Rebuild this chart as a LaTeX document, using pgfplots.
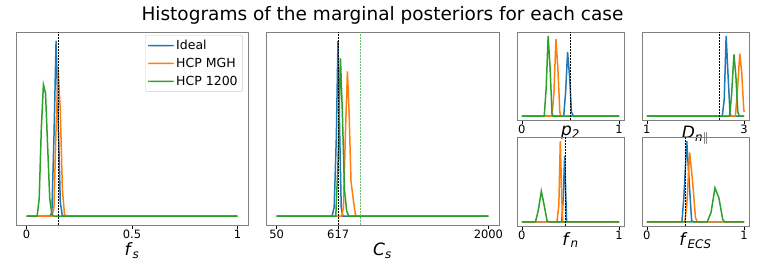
\documentclass[border=0pt]{standalone}
\usepackage{pgfplots}
\pgfplotsset{compat=1.18}
\usepackage{fontspec}
\setmainfont{DejaVu Sans}
\definecolor{tblue}{HTML}{1F77B4}
\definecolor{torange}{HTML}{FF7F0E}
\definecolor{tgreen}{HTML}{2CA02C}
\newcommand\lab[2]{\textit{#1}\textsubscript{\textit{#2}}}
\pgfplotsset{
  every axis/.append style={
    scale only axis, anchor=south west,
    ymin=-0.05, ymax=1.05, ytick=\empty,
    axis line style={black!50, line width=0.9pt},
    tick align=outside, xtick pos=left,
    major tick length=3.5pt,
    every tick/.style={black, line width=0.7pt},
    /pgf/number format/assume math mode=true,
    xticklabel style={font=\fontsize{11.5}{13}\selectfont, inner sep=1pt},
    xlabel style={font=\fontsize{17}{19}\selectfont},
  },
  cb/.style={tblue, line width=1.5pt},
  co/.style={torange, line width=1.5pt},
  cg/.style={tgreen, line width=1.5pt},
  vl/.style={black, line width=0.7pt, dash pattern=on 1.8pt off 1.2pt},
}
\begin{document}
\begin{tikzpicture}[x=1pt,y=1pt]
\useasboundingbox (0,0) rectangle (765,266);
\node[font=\fontsize{18.5}{21}\selectfont] at (382.5,251) {Histograms of the marginal posteriors for each case};

% Panel 1: f_s
\begin{axis}[at={(16pt,41pt)}, width=232pt, height=193pt,
  xmin=-0.05, xmax=1.05, xtick={0,0.5,1}, xticklabels={0,0.5,1},
  xlabel={\lab{f}{s}}, xlabel style={at={(axis description cs:0.5,-0.075)}, anchor=north},
  legend style={at={(0.978,0.985)}, anchor=north east, draw=black!20, rounded corners=2pt,
    font=\fontsize{12.5}{14}\selectfont, row sep=3pt, inner xsep=3pt, inner ysep=3pt},
  legend cell align=left]
\addlegendimage{legend image code/.code={\fill[fill=tblue, draw=none] (0pt,-0.75pt) rectangle (26pt,0.75pt);}}
\addlegendentry{Ideal}
\addlegendimage{legend image code/.code={\fill[fill=torange, draw=none] (0pt,-0.75pt) rectangle (26pt,0.75pt);}}
\addlegendentry{HCP MGH}
\addlegendimage{legend image code/.code={\fill[fill=tgreen, draw=none] (0pt,-0.75pt) rectangle (26pt,0.75pt);}}
\addlegendentry{HCP 1200}
\addplot[cb, forget plot] coordinates {(0,0)(0.11,0)(0.12,0.02)(0.13,0.45)(0.14,1.0)(0.15,0.55)(0.16,0.08)(0.17,0)(1,0)};
\addplot[co, forget plot] coordinates {(0,0)(0.12,0)(0.13,0.05)(0.14,0.5)(0.15,0.84)(0.16,0.6)(0.17,0.15)(0.18,0.01)(0.19,0)(1,0)};
\addplot[cg, forget plot] coordinates {(0,0)(0.05,0)(0.06,0.1)(0.07,0.5)(0.08,0.75)(0.09,0.7)(0.10,0.4)(0.11,0.1)(0.12,0.01)(0.13,0)(1,0)};
\addplot[vl, forget plot] coordinates {(0.15,-0.05)(0.15,1.05)};
\end{axis}

% Panel 2: C_s
\begin{axis}[at={(266pt,41pt)}, width=233pt, height=193pt,
  xmin=-47.5, xmax=2097.5, xtick={50,617,2000}, xticklabels={50,617,2000},
  xlabel={\lab{C}{s}}, xlabel style={at={(axis description cs:0.5,-0.075)}, anchor=north}]
\addplot[cb] coordinates {(50,0)(560,0)(580,0.05)(600,0.45)(615,1.0)(630,0.5)(645,0.05)(660,0)(2000,0)};
\addplot[co] coordinates {(50,0)(650,0)(665,0.05)(685,0.5)(702,0.825)(717,0.6)(735,0.2)(755,0.1)(775,0.01)(790,0)(2000,0)};
\addplot[cg] coordinates {(50,0)(595,0)(615,0.3)(638,0.9)(655,0.6)(675,0.15)(695,0.03)(715,0)(2000,0)};
\addplot[vl] coordinates {(617,-0.05)(617,1.05)};
\addplot[tgreen!70, line width=0.5pt, dash pattern=on 1.8pt off 1.2pt] coordinates {(818,-0.05)(818,1.05)};
\end{axis}

% p_2
\begin{axis}[at={(517pt,146pt)}, width=107pt, height=88pt,
  xmin=-0.05, xmax=1.05, xtick={0,1}, xticklabels={0,1},
  xlabel={\lab{p}{2}}, xlabel style={at={(axis description cs:0.5,-0.03)}, anchor=north}]
\addplot[cb] coordinates {(0,0)(0.43,0)(0.45,0.3)(0.47,0.8)(0.49,0.5)(0.51,0.05)(0.53,0)(1,0)};
\addplot[co] coordinates {(0,0)(0.31,0)(0.33,0.3)(0.35,0.96)(0.37,0.6)(0.39,0.05)(0.40,0)(1,0)};
\addplot[cg] coordinates {(0,0)(0.23,0)(0.25,0.35)(0.27,1.0)(0.29,0.6)(0.31,0.03)(0.32,0)(1,0)};
\addplot[vl] coordinates {(0.5,-0.05)(0.5,1.05)};
\end{axis}

% D_n||
\begin{axis}[at={(642pt,146pt)}, width=107pt, height=88pt,
  xmin=0.9, xmax=3.1, xtick={1,3}, xticklabels={1,3},
  xlabel={\textit{D}\textsubscript{\textit{n}$\parallel$}}, xlabel style={at={(axis description cs:0.5,-0.03)}, anchor=north}]
\addplot[cb] coordinates {(1,0)(2.55,0)(2.59,0.2)(2.63,1.0)(2.67,0.5)(2.71,0.03)(2.73,0)(3,0)};
\addplot[co] coordinates {(1,0)(2.82,0)(2.86,0.3)(2.91,0.78)(2.95,0.55)(2.99,0.1)(3,0.05)};
\addplot[cg] coordinates {(1,0)(2.7,0)(2.74,0.25)(2.79,0.77)(2.83,0.5)(2.87,0.05)(2.9,0)(3,0)};
\addplot[vl] coordinates {(2.5,-0.05)(2.5,1.05)};
\end{axis}

% f_n
\begin{axis}[at={(517pt,40pt)}, width=107pt, height=89pt,
  xmin=-0.05, xmax=1.05, xtick={0,1}, xticklabels={0,1},
  xlabel={\lab{f}{n}}, xlabel style={at={(axis description cs:0.5,-0.03)}, anchor=north}]
\addplot[cb] coordinates {(0,0)(0.41,0)(0.425,0.3)(0.44,0.815)(0.45,0.4)(0.46,0)(1,0)};
\addplot[co] coordinates {(0,0)(0.36,0)(0.38,0.2)(0.395,1.0)(0.41,0.3)(0.42,0)(1,0)};
\addplot[cg] coordinates {(0,0)(0.14,0)(0.17,0.15)(0.2,0.38)(0.23,0.2)(0.26,0.01)(0.28,0)(1,0)};
\addplot[vl] coordinates {(0.445,-0.05)(0.445,1.05)};
\end{axis}

% f_ECS
\begin{axis}[at={(642pt,40pt)}, width=107pt, height=89pt,
  xmin=-0.05, xmax=1.05, xtick={0,1}, xticklabels={0,1},
  xlabel={\lab{f}{ECS}}, xlabel style={at={(axis description cs:0.5,-0.03)}, anchor=north}]
\addplot[cb] coordinates {(0,0)(0.36,0)(0.38,0.3)(0.41,1.0)(0.44,0.4)(0.46,0.02)(0.48,0)(1,0)};
\addplot[co] coordinates {(0,0)(0.39,0)(0.41,0.2)(0.44,0.86)(0.47,0.5)(0.5,0.05)(0.52,0)(1,0)};
\addplot[cg] coordinates {(0,0)(0.62,0)(0.66,0.12)(0.7,0.42)(0.74,0.3)(0.78,0.03)(0.8,0)(1,0)};
\addplot[vl] coordinates {(0.40,-0.05)(0.40,1.05)};
\end{axis}
\end{tikzpicture}
\end{document}
